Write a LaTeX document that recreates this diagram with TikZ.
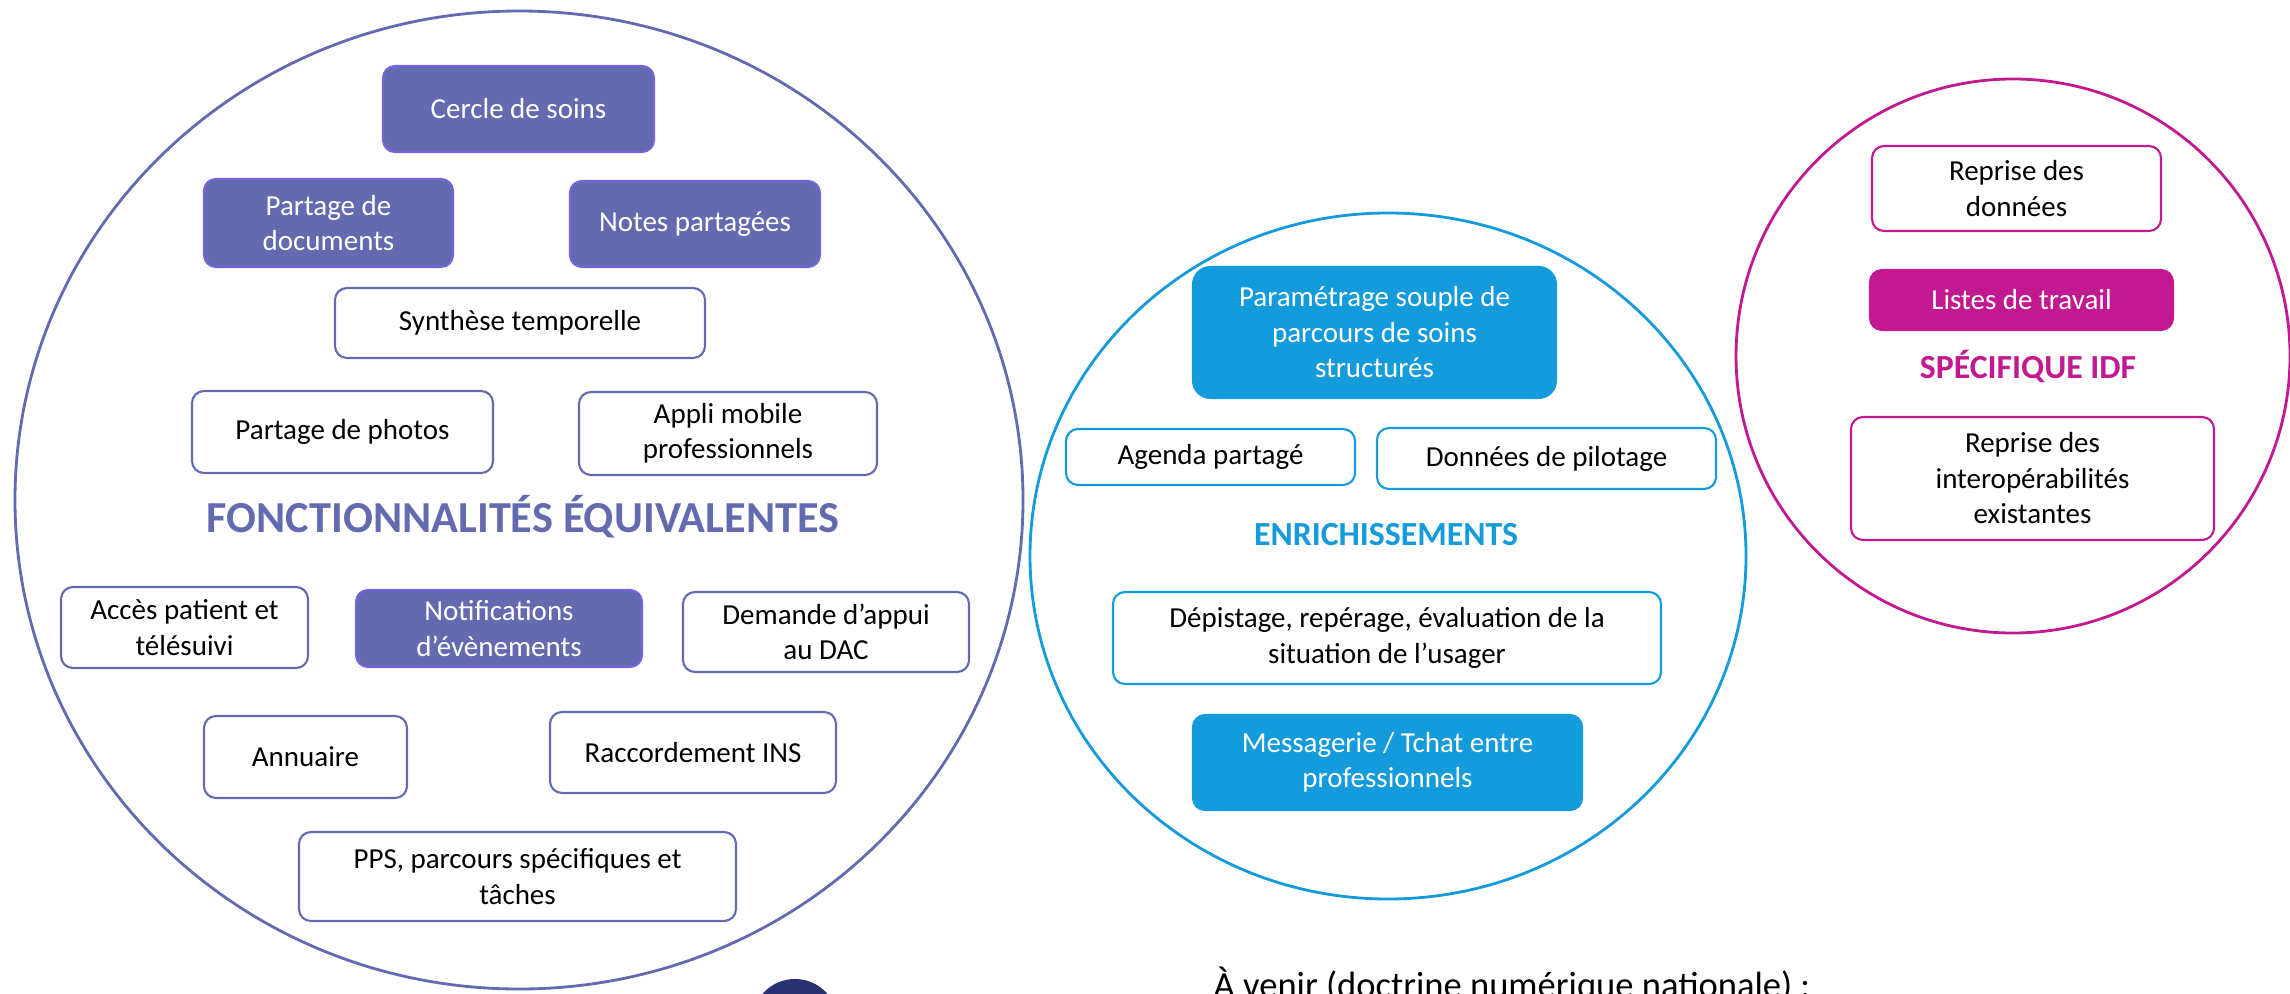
\documentclass[tikz,border=0pt]{standalone}
\usepackage{fontspec}
\setmainfont{Carlito}
\definecolor{violetF}{RGB}{99,106,175}
\definecolor{violetBord}{RGB}{118,100,220}
\definecolor{bleuE}{RGB}{20,155,219}
\definecolor{roseS}{RGB}{194,25,145}
\definecolor{marine}{RGB}{40,50,114}

\begin{document}
\begin{tikzpicture}[
		font=\fontsize{8.25}{10.1}\selectfont,
		boite/.style={rounded corners=3.4pt, line width=0.6pt, align=center, inner sep=0pt},
		pleinV/.style={boite, fill=violetF, draw=violetBord, text=white},
		videV/.style={boite, fill=white, draw=violetF},
		pleinB/.style={boite, fill=bleuE, draw=bleuE, text=white},
		videB/.style={boite, fill=white, draw=bleuE},
		pleinR/.style={boite, fill=roseS, draw=roseS, text=white},
		videR/.style={boite, fill=white, draw=roseS},
		titre/.style={anchor=base, inner sep=0pt, font=\bfseries\fontsize{9.6}{11}\selectfont},
		cercle/.style={line width=0.8pt}
	]
		\useasboundingbox (0,0) rectangle (22.9,-9.93);

		\draw[cercle, violetF] (5.19,-5.00) ellipse [x radius=5.04, y radius=4.89];
		\draw[cercle, bleuE] (13.88,-5.56) ellipse [x radius=3.58, y radius=3.43];
		\draw[cercle, roseS] (20.13,-3.56) circle (2.77);
		\fill[marine] (7.95,-10.22) circle (0.43);

		\draw (5.185,-1.09) node[pleinV, minimum width=2.71cm, minimum height=0.86cm] (cercleSoins) {Cercle de soins};
		\draw (3.285,-2.23) node[pleinV, minimum width=2.49cm, minimum height=0.88cm] (partageDoc) {Partage de\\documents};
		\draw (6.95,-2.24) node[pleinV, minimum width=2.50cm, minimum height=0.86cm] (notes) {Notes partagées};
		\draw (5.20,-3.23) node[videV, minimum width=3.70cm, minimum height=0.70cm] (synthese) {Synthèse temporelle};
		\draw (3.425,-4.32) node[videV, minimum width=3.01cm, minimum height=0.82cm] (photos) {Partage de photos};
		\draw (7.28,-4.335) node[videV, minimum width=2.98cm, minimum height=0.83cm] (appli) {Appli mobile\\professionnels};
		\draw (5.23,-5.32) node[titre, text=violetF, font=\bfseries\fontsize{12.6}{14}\selectfont] (titreF) {FONCTIONNALITÉS ÉQUIVALENTES};
		\draw (1.845,-6.275) node[videV, minimum width=2.47cm, minimum height=0.81cm] (acces) {Accès patient et\\télésuivi};
		\draw (4.99,-6.285) node[pleinV, minimum width=2.86cm, minimum height=0.77cm] (notif) {Notifications\\d’évènements};
		\draw (8.26,-6.32) node[videV, minimum width=2.86cm, minimum height=0.80cm] (demande) {Demande d’appui\\au DAC};
		\draw (3.055,-7.57) node[videV, minimum width=2.03cm, minimum height=0.82cm] (annuaire) {Annuaire};
		\draw (6.93,-7.525) node[videV, minimum width=2.86cm, minimum height=0.81cm] (ins) {Raccordement INS};
		\draw (5.175,-8.765) node[videV, minimum width=4.37cm, minimum height=0.89cm] (pps) {PPS, parcours spécifiques et\\tâches};

		\draw (13.745,-3.325) node[pleinB, minimum width=3.63cm, minimum height=1.31cm, rounded corners=5pt] (param) {Paramétrage souple de\\parcours de soins\\structurés};
		\draw (12.105,-4.57) node[videB, minimum width=2.89cm, minimum height=0.56cm] (agenda) {Agenda partagé};
		\draw (15.465,-4.585) node[videB, minimum width=3.39cm, minimum height=0.61cm] (pilotage) {Données de pilotage};
		\draw (13.86,-5.45) node[titre, text=bleuE] (titreE) {ENRICHISSEMENTS};
		\draw (13.87,-6.38) node[videB, minimum width=5.48cm, minimum height=0.92cm] (depistage) {Dépistage, repérage, évaluation de la\\situation de l’usager};
		\draw (13.875,-7.625) node[pleinB, minimum width=3.89cm, minimum height=0.95cm] (messagerie) {Messagerie / Tchat entre\\professionnels};

		\draw (20.165,-1.885) node[videR, minimum width=2.89cm, minimum height=0.85cm] (repriseDonnees) {Reprise des\\données};
		\draw (20.215,-3.00) node[pleinR, minimum width=3.03cm, minimum height=0.60cm] (listes) {Listes de travail};
		\draw (20.28,-3.78) node[titre, text=roseS] (titreS) {SPÉCIFIQUE IDF};
		\draw (20.325,-4.785) node[videR, minimum width=3.63cm, minimum height=1.23cm] (interop) {Reprise des\\interopérabilités\\existantes};

		\draw (12.13,-9.97) node[anchor=base west, inner sep=0pt, font=\fontsize{10.4}{12}\selectfont] (avenir) {À venir (doctrine numérique nationale) :};
	\end{tikzpicture}
\end{document}
